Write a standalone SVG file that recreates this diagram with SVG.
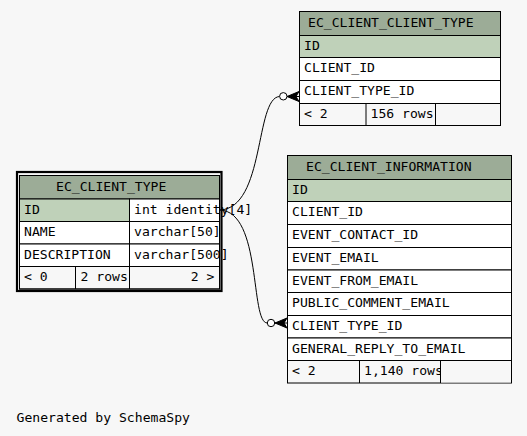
<svg xmlns="http://www.w3.org/2000/svg" width="527" height="436" viewBox="0 0 527 436">
<style>
text{font-family:"DejaVu Sans Mono","Liberation Mono",monospace;font-size:13.1px;fill:#000}
.hd{fill:#9cac97;stroke:#000;stroke-width:1}
.pk{fill:#bfd1b9;stroke:#000;stroke-width:1}
.rw{fill:#fff;stroke:#000;stroke-width:1}
.ft{fill:#f7f7f7;stroke:#000;stroke-width:1}
.ln{stroke:#000;stroke-width:1;fill:none}
.edge{fill:none;stroke:#000;stroke-width:1}
.dot{fill:#fff;stroke:#000;stroke-width:1}
.crow{fill:#000;stroke:#000;stroke-width:1;stroke-linejoin:miter}
</style>
<rect x="0" y="0" width="527" height="436" fill="#f7f7f7"/>

<g id="EC_CLIENT_CLIENT_TYPE">
<rect class="hd" x="299.5" y="11.5" width="201" height="24"/>
<rect class="pk" x="299.5" y="35.5" width="201" height="22"/>
<rect class="rw" x="299.5" y="57.5" width="201" height="23"/>
<rect class="rw" x="299.5" y="80.5" width="201" height="23"/>
<rect class="ft" x="299.5" y="103.5" width="201" height="22"/>
<line class="ln" x1="366" y1="103.5" x2="366" y2="125.5"/>
<line class="ln" x1="435.5" y1="103.5" x2="435.5" y2="125.5"/>
<text x="308" y="27">EC_CLIENT_CLIENT_TYPE</text>
<text x="304" y="49.5">ID</text>
<text x="304" y="72">CLIENT_ID</text>
<text x="304" y="95">CLIENT_TYPE_ID</text>
<text x="304" y="117.5">&lt; 2</text>
<text x="370.5" y="117.5">156 rows</text>
</g>

<g id="EC_CLIENT_INFORMATION">
<rect class="hd" x="287.5" y="155.5" width="224" height="24"/>
<rect class="pk" x="287.5" y="179.5" width="224" height="22"/>
<rect class="rw" x="287.5" y="201.5" width="224" height="23"/>
<rect class="rw" x="287.5" y="224.5" width="224" height="23"/>
<rect class="rw" x="287.5" y="247.5" width="224" height="22.5"/>
<rect class="rw" x="287.5" y="270" width="224" height="22.5"/>
<rect class="rw" x="287.5" y="292.5" width="224" height="23"/>
<rect class="rw" x="287.5" y="315.5" width="224" height="22.5"/>
<rect class="rw" x="287.5" y="338" width="224" height="22.5"/>
<rect class="ft" x="287.5" y="360.5" width="224" height="22.5"/>
<text x="306" y="171">EC_CLIENT_INFORMATION</text>
<text x="292" y="193.5">ID</text>
<text x="292" y="216">CLIENT_ID</text>
<text x="292" y="239">EVENT_CONTACT_ID</text>
<text x="292" y="261.5">EVENT_EMAIL</text>
<text x="292" y="284.5">EVENT_FROM_EMAIL</text>
<text x="292" y="307">PUBLIC_COMMENT_EMAIL</text>
<text x="292" y="330">CLIENT_TYPE_ID</text>
<text x="292" y="352.5">GENERAL_REPLY_TO_EMAIL</text>
<text x="292" y="375">&lt; 2</text>
<text x="364" y="375">1,140 rows</text>
<line class="ln" x1="359.5" y1="360.5" x2="359.5" y2="383"/>
<rect x="441" y="361" width="70" height="21.5" fill="#f7f7f7"/>
<line class="ln" x1="440.5" y1="360.5" x2="440.5" y2="383"/>
<line class="ln" x1="511.5" y1="360.5" x2="511.5" y2="383"/>
</g>

<g id="EC_CLIENT_TYPE">
<rect class="hd" x="19.5" y="175.5" width="200" height="23.5"/>
<rect class="pk" x="19.5" y="199" width="110" height="22.5"/>
<rect class="rw" x="129.5" y="199" width="90" height="22.5"/>
<rect class="rw" x="19.5" y="221.5" width="110" height="22.5"/>
<rect class="rw" x="129.5" y="221.5" width="90" height="22.5"/>
<rect class="rw" x="19.5" y="244" width="110" height="22.5"/>
<rect class="rw" x="129.5" y="244" width="90" height="22.5"/>
<rect class="ft" x="19.5" y="266.5" width="200" height="22.5"/>
<line class="ln" x1="75.5" y1="266.5" x2="75.5" y2="289"/>
<line class="ln" x1="129.5" y1="266.5" x2="129.5" y2="289"/>
<text x="56" y="191">EC_CLIENT_TYPE</text>
<text x="24" y="213.5">ID</text>
<text x="134" y="213.5">int identity[4]</text>
<text x="24" y="236">NAME</text>
<text x="134" y="236">varchar[50]</text>
<text x="24" y="258.5">DESCRIPTION</text>
<text x="134" y="258.5">varchar[500]</text>
<text x="24" y="281">&lt; 0</text>
<text x="80.5" y="281">2 rows</text>
<text x="214.5" y="281" text-anchor="end">2 &gt;</text>
<rect x="19.5" y="175.5" width="200" height="113.5" fill="none" stroke="#000" stroke-width="1"/>
<rect x="17" y="172" width="204.5" height="119" fill="none" stroke="#000" stroke-width="2.2"/>
</g>

<g id="connectors">
<path class="edge" d="M220,210 C265,208 255,98 279.5,96.5"/>
<polygon class="crow" points="287,96.5 299,91.5 296,96.5 299,101.5"/>
<line class="ln" x1="287" y1="96.5" x2="299" y2="96.5"/>
<circle class="dot" cx="283.3" cy="96.3" r="3.7"/>
<path class="edge" d="M220,210 C262,212 250,323 267.3,323"/>
<polygon class="crow" points="275,323 287,318 284,323 287,328"/>
<line class="ln" x1="275" y1="323" x2="287" y2="323"/>
<circle class="dot" cx="271" cy="323" r="3.7"/>
</g>

<text x="16.5" y="421.5">Generated by SchemaSpy</text>
</svg>
